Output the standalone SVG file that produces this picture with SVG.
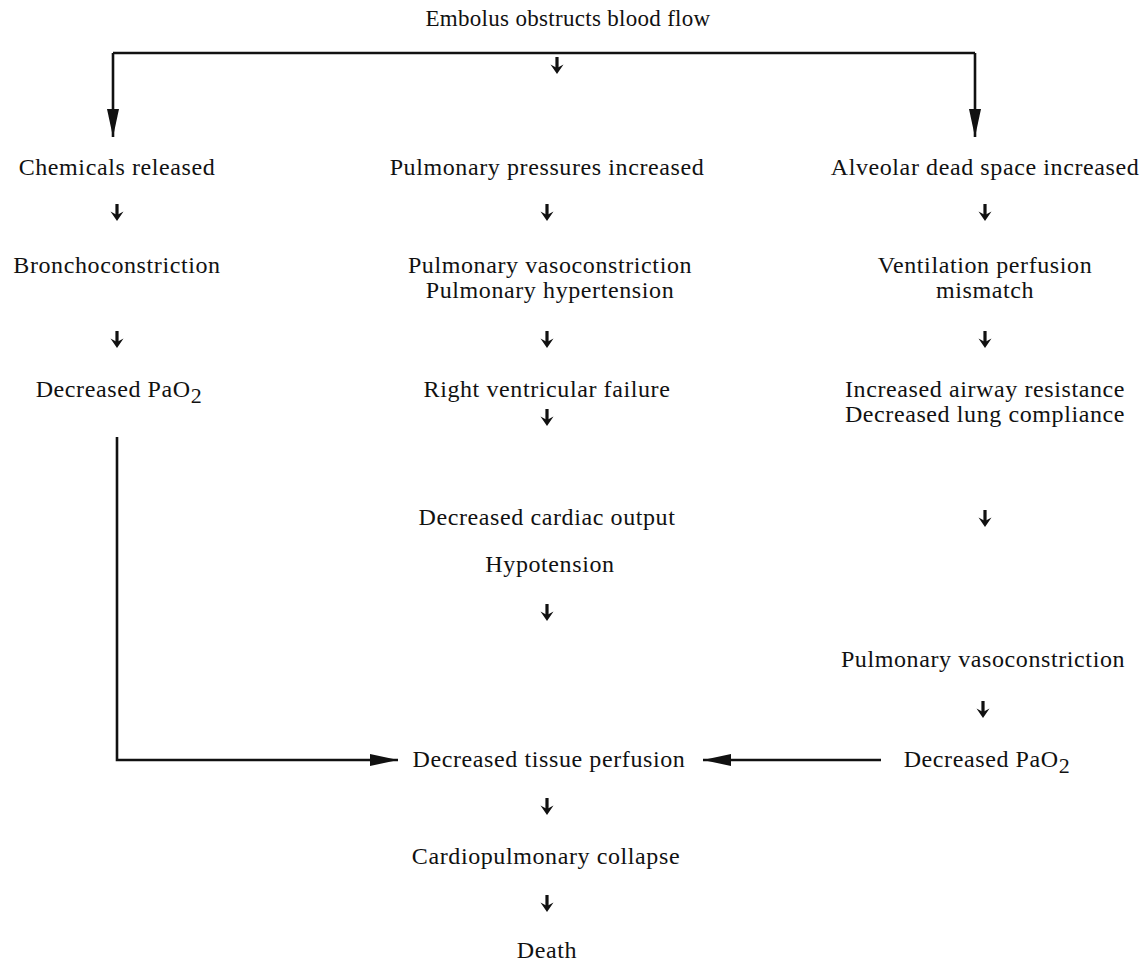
<svg xmlns="http://www.w3.org/2000/svg" xmlns:xlink="http://www.w3.org/1999/xlink" width="1142" height="963" viewBox="0 0 1142 963">
  <style>
    text { font-family: "Liberation Serif", "Times New Roman", serif; font-size: 24px; letter-spacing: 0.6px; fill: #111; text-anchor: middle; }
    .title { font-size: 23px; letter-spacing: 0.3px; }
    .sub { font-size: 22px; }
    .line { fill: none; stroke: #111; stroke-width: 2.6; }
  </style>
  <defs>
    <!-- small bold down arrow used between steps -->
    <symbol id="dn" overflow="visible">
      <path d="M0,-9 V3" stroke="#111" stroke-width="3.2" fill="none"/>
      <path d="M-6.5,-1.5 L0,8 L6.5,-1.5 L0,2 Z" fill="#111"/>
    </symbol>
    <marker id="head" markerWidth="30" markerHeight="12" refX="28" refY="6" orient="auto" markerUnits="userSpaceOnUse">
      <path d="M0,0 L28,6 L0,12 Z" fill="#111"/>
    </marker>
  </defs>
  <rect width="1142" height="963" fill="#fff"/>

  <g id="connectors">
    <path class="line" d="M113,53 H975"/>
    <path class="line" d="M975,53 V137" marker-end="url(#head)"/>
    <path class="line" d="M113,53 V137" marker-end="url(#head)"/>
    <path class="line" d="M117,437 V760 H398" marker-end="url(#head)"/>
    <path class="line" d="M881,760 H703" marker-end="url(#head)"/>
    <use xlink:href="#dn" x="557" y="66"/>
    <use xlink:href="#dn" x="117" y="213"/>
    <use xlink:href="#dn" x="547" y="213"/>
    <use xlink:href="#dn" x="985" y="213"/>
    <use xlink:href="#dn" x="117" y="340"/>
    <use xlink:href="#dn" x="547" y="340"/>
    <use xlink:href="#dn" x="985" y="340"/>
    <use xlink:href="#dn" x="547" y="418"/>
    <use xlink:href="#dn" x="985" y="519"/>
    <use xlink:href="#dn" x="547" y="613"/>
    <use xlink:href="#dn" x="983" y="710"/>
    <use xlink:href="#dn" x="547" y="807"/>
    <use xlink:href="#dn" x="547" y="904"/>
  </g>

  <g id="n-embolus"><text class="title" x="568" y="26">Embolus obstructs blood flow</text></g>

  <g id="n-chemicals"><text x="117" y="175">Chemicals released</text></g>
  <g id="n-broncho"><text x="117" y="273">Bronchoconstriction</text></g>
  <g id="n-pao2-left"><text x="119" y="397">Decreased PaO<tspan class="sub" dy="6">2</tspan></text></g>

  <g id="n-pressures"><text x="547" y="175">Pulmonary pressures increased</text></g>
  <g id="n-vaso-mid">
    <text x="550" y="273">Pulmonary vasoconstriction</text>
    <text x="550" y="298">Pulmonary hypertension</text>
  </g>
  <g id="n-rv-failure"><text x="547" y="397">Right ventricular failure</text></g>
  <g id="n-cardiac">
    <text x="547" y="525">Decreased cardiac output</text>
    <text x="550" y="572">Hypotension</text>
  </g>
  <g id="n-tissue"><text x="549" y="767">Decreased tissue perfusion</text></g>
  <g id="n-collapse"><text x="546" y="864">Cardiopulmonary collapse</text></g>
  <g id="n-death"><text x="547" y="958">Death</text></g>

  <g id="n-deadspace"><text x="985" y="175">Alveolar dead space increased</text></g>
  <g id="n-vq">
    <text x="985" y="273">Ventilation perfusion</text>
    <text x="985" y="298">mismatch</text>
  </g>
  <g id="n-airway">
    <text x="985" y="397">Increased airway resistance</text>
    <text x="985" y="422">Decreased lung compliance</text>
  </g>
  <g id="n-vaso-right"><text x="983" y="667">Pulmonary vasoconstriction</text></g>
  <g id="n-pao2-right"><text x="987" y="767">Decreased PaO<tspan class="sub" dy="6">2</tspan></text></g>
</svg>
